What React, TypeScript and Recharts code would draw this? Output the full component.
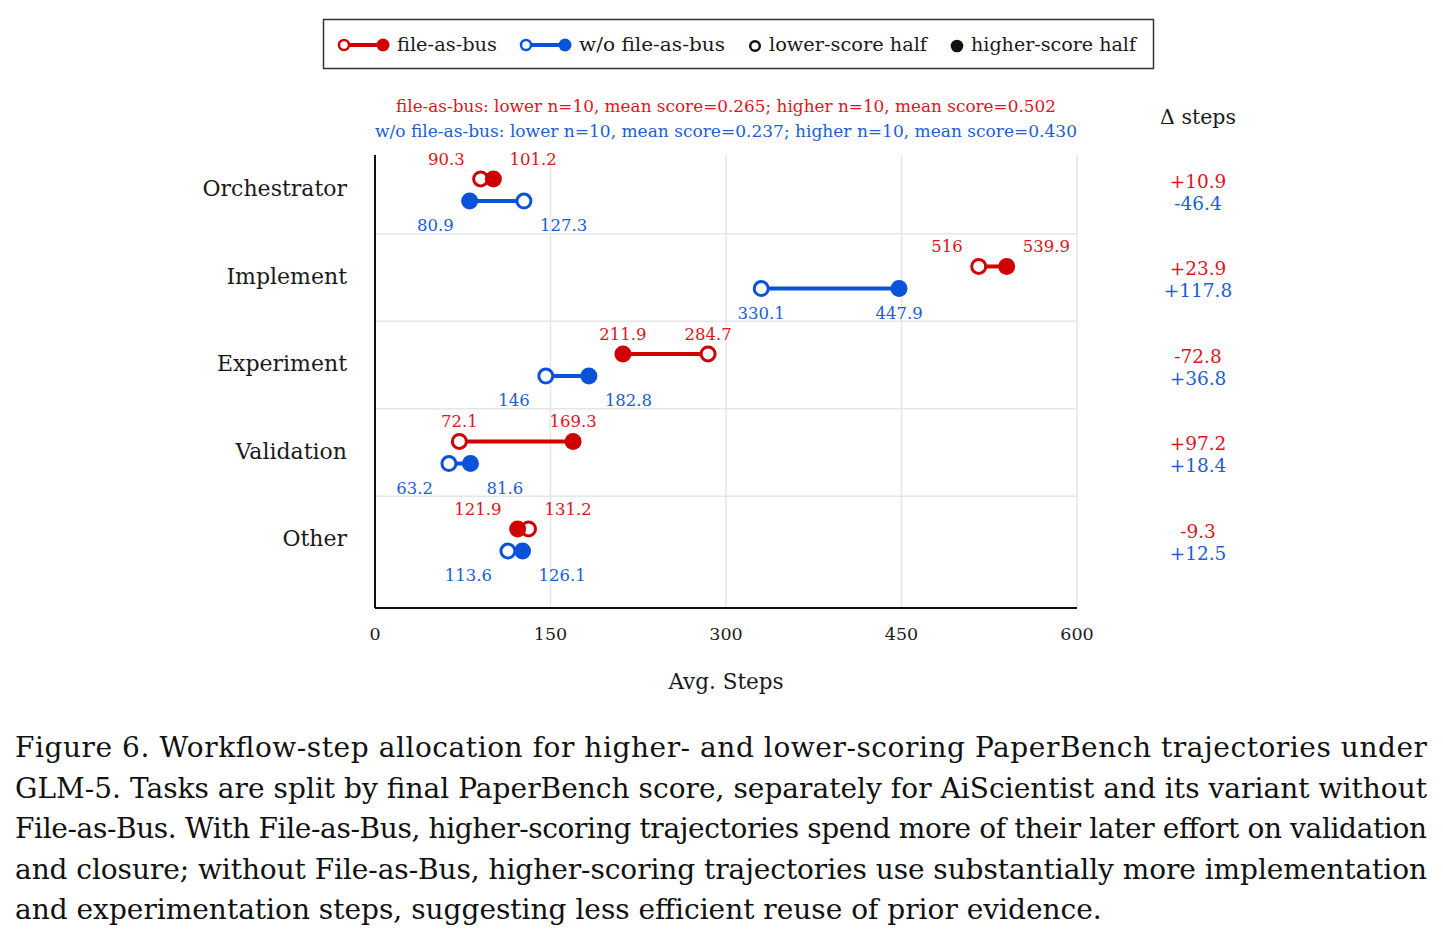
import React from 'react';
import { ScatterChart, Scatter, XAxis, YAxis, CartesianGrid } from 'recharts';

// ---------- data ----------
const categories = ['Orchestrator', 'Implement', 'Experiment', 'Validation', 'Other'];
const busLower = [90.3, 516, 284.7, 72.1, 131.2];
const busHigher = [101.2, 539.9, 211.9, 169.3, 121.9];
const noBusLower = [127.3, 330.1, 146, 63.2, 113.6];
const noBusHigher = [80.9, 447.9, 182.8, 81.6, 126.1];
const deltaBus = ['+10.9', '+23.9', '-72.8', '+97.2', '-9.3'];
const deltaNoBus = ['-46.4', '+117.8', '+36.8', '+18.4', '+12.5'];
const xTicks = [0, 150, 300, 450, 600];
const rowTicks = [0, 1, 2, 3, 4];
const rowGrid = [0.5, 1.5, 2.5, 3.5];
const titleBus = 'file-as-bus: lower n=10, mean score=0.265; higher n=10, mean score=0.502';
const titleNoBus = 'w/o file-as-bus: lower n=10, mean score=0.237; higher n=10, mean score=0.430';
const captionLines = [
  'Figure 6. Workflow-step allocation for higher- and lower-scoring PaperBench trajectories under',
  'GLM-5. Tasks are split by final PaperBench score, separately for AiScientist and its variant without',
  'File-as-Bus. With File-as-Bus, higher-scoring trajectories spend more of their later effort on validation',
  'and closure; without File-as-Bus, higher-scoring trajectories use substantially more implementation',
  'and experimentation steps, suggesting less efficient reuse of prior evidence.',
];

// ---------- style ----------
const FONT = '"DejaVu Serif", serif';
const CAP_FONT = '"DejaVu Serif", serif';
const RED = '#D00000';
const BLUE = '#0A52DA';
const RED_T = '#E0141C';
const BLUE_T = '#1B5ED6';
const INK = '#1a1a1a';
const GRID = '#e6e6e6';
const OFF = 0.126;
const CLOSE = 60;

type Pt = {
  x: number; y: number; filled: boolean; color: string; textColor: string;
  label: string; side: 'min' | 'max'; close: boolean; above: boolean;
};

function makeRow(i: number, lower: number, higher: number, color: string, textColor: string, above: boolean): Pt[] {
  const y = i + (above ? -OFF : OFF);
  const close = Math.abs(higher - lower) < CLOSE;
  const mn = Math.min(lower, higher);
  return [
    { x: lower, filled: false },
    { x: higher, filled: true },
  ].map((p) => ({
    x: p.x, y, filled: p.filled, color, textColor, label: String(p.x),
    side: p.x === mn ? 'min' : 'max', close, above,
  })) as Pt[];
}

const busRows = categories.map((_, i) => makeRow(i, busLower[i], busHigher[i], RED, RED_T, true));
const noBusRows = categories.map((_, i) => makeRow(i, noBusLower[i], noBusHigher[i], BLUE, BLUE_T, false));
const deltaData = categories.map((_, i) => ({ x: 600, y: i, db: deltaBus[i], dn: deltaNoBus[i] }));

const DumbbellDot = (props: any) => {
  const { cx, cy, payload } = props;
  if (cx == null || cy == null) return null;
  const p = payload as Pt;
  let tx = cx;
  let anchor: 'middle' | 'start' | 'end' = 'middle';
  if (p.close) {
    if (p.side === 'min') { tx = cx - 16; anchor = 'end'; } else { tx = cx + 16; anchor = 'start'; }
  }
  const ty = p.above ? cy - 14 : cy + 30;
  return (
    <g>
      {p.filled ? (
        <circle cx={cx} cy={cy} r={8.5} fill={p.color} />
      ) : (
        <circle cx={cx} cy={cy} r={7} fill="#fff" stroke={p.color} strokeWidth={3} />
      )}
      <text x={tx} y={ty} textAnchor={anchor} fill={p.textColor} fontSize={16.5} fontFamily={FONT}>
        {p.label}
      </text>
    </g>
  );
};

const DeltaShape = (props: any) => {
  const { cx, cy, payload } = props;
  if (cx == null || cy == null) return null;
  return (
    <g>
      <text x={cx + 121} y={cy - 2.5} textAnchor="middle" fill={RED_T} fontSize={18.5} fontFamily={FONT}>{payload.db}</text>
      <text x={cx + 121} y={cy + 19.5} textAnchor="middle" fill={BLUE_T} fontSize={18.5} fontFamily={FONT}>{payload.dn}</text>
    </g>
  );
};

const CatTick = (props: any) => {
  const { x, y, payload } = props;
  return (
    <text x={x} y={y + 6} textAnchor="end" fontSize={22} fontFamily={FONT} fill={INK}>
      {categories[payload.value]}
    </text>
  );
};

const XTick = (props: any) => {
  const { x, y, payload } = props;
  return (
    <text x={x} y={y + 32} textAnchor="middle" fontSize={17.5} fontFamily={FONT} fill={INK}>
      {payload.value}
    </text>
  );
};

export default function App() {
  return (
    <div style={{ position: 'absolute', left: 0, top: 0, width: 1443, height: 945, background: '#fff' }}>
      <div style={{ position: 'absolute', left: 0, top: 0 }}>
        <ScatterChart width={1443} height={720} margin={{ top: 155, right: 366, bottom: 72, left: 0 }}>
          <CartesianGrid
            stroke={GRID}
            strokeWidth={1.5}
            horizontalValues={rowGrid}
            verticalValues={[150, 300, 450, 600]}
          />
          <XAxis
            type="number"
            dataKey="x"
            domain={[0, 600]}
            ticks={xTicks}
            height={40}
            axisLine={{ stroke: '#111', strokeWidth: 2 }}
            tickLine={false}
            tickSize={0}
            tickMargin={0}
            tick={<XTick />}
            interval={0}
          />
          <YAxis
            type="number"
            dataKey="y"
            domain={[-0.4, 4.777]}
            reversed
            ticks={rowTicks}
            width={375}
            axisLine={{ stroke: '#111', strokeWidth: 2 }}
            tickLine={false}
            tickSize={0}
            tickMargin={28}
            tick={<CatTick />}
            interval={0}
          />
          {busRows.map((row, i) => (
            <Scatter
              key={'bus' + i}
              data={row}
              line={{ stroke: RED, strokeWidth: 4 }}
              lineType="joint"
              shape={<DumbbellDot />}
              isAnimationActive={false}
            />
          ))}
          {noBusRows.map((row, i) => (
            <Scatter
              key={'nobus' + i}
              data={row}
              line={{ stroke: BLUE, strokeWidth: 4 }}
              lineType="joint"
              shape={<DumbbellDot />}
              isAnimationActive={false}
            />
          ))}
          <Scatter data={deltaData} shape={<DeltaShape />} isAnimationActive={false} />
        </ScatterChart>
      </div>
      <svg
        width={1443}
        height={945}
        style={{ position: 'absolute', left: 0, top: 0, pointerEvents: 'none' }}
      >
        {/* legend */}
        <rect x={323.5} y={19.5} width={830} height={49} fill="none" stroke="#333" strokeWidth={1.5} />
        <line x1={344} y1={45} x2={383} y2={45} stroke={RED} strokeWidth={4} />
        <circle cx={344} cy={45} r={5} fill="#fff" stroke={RED} strokeWidth={2.5} />
        <circle cx={383} cy={45} r={6.5} fill={RED} />
        <text x={397} y={51} fontSize={19} fontFamily={FONT} fill={INK} textLength={100} lengthAdjust="spacingAndGlyphs">file-as-bus</text>
        <line x1={526} y1={45} x2={565} y2={45} stroke={BLUE} strokeWidth={4} />
        <circle cx={526} cy={45} r={5} fill="#fff" stroke={BLUE} strokeWidth={2.5} />
        <circle cx={565} cy={45} r={6.5} fill={BLUE} />
        <text x={579} y={51} fontSize={19} fontFamily={FONT} fill={INK} textLength={146} lengthAdjust="spacingAndGlyphs">w/o file-as-bus</text>
        <circle cx={755} cy={46} r={4.8} fill="#fff" stroke="#111" strokeWidth={2.5} />
        <text x={769} y={51} fontSize={19} fontFamily={FONT} fill={INK} textLength={158} lengthAdjust="spacingAndGlyphs">lower-score half</text>
        <circle cx={957} cy={46} r={6.3} fill="#111" />
        <text x={971} y={51} fontSize={19} fontFamily={FONT} fill={INK} textLength={165} lengthAdjust="spacingAndGlyphs">higher-score half</text>

        {/* subtitle lines */}
        <text x={726} y={112} textAnchor="middle" fontSize={16.5} fontFamily={FONT} fill={RED_T} textLength={660} lengthAdjust="spacingAndGlyphs">{titleBus}</text>
        <text x={726} y={137} textAnchor="middle" fontSize={16.5} fontFamily={FONT} fill={BLUE_T} textLength={702} lengthAdjust="spacingAndGlyphs">{titleNoBus}</text>

        {/* delta header */}
        <text x={1198} y={124} textAnchor="middle" fontSize={20.5} fontFamily={FONT} fill={INK}>Δ steps</text>

        {/* x axis title */}
        <text x={726} y={689} textAnchor="middle" fontSize={21.5} fontFamily={FONT} fill={INK}>Avg. Steps</text>

        {/* caption */}
        {captionLines.map((ln, i) => (
          <text
            key={i}
            x={15}
            y={757 + i * 40.5}
            fontSize={28}
            fontFamily={CAP_FONT}
            fill="#111"
            {...(i === captionLines.length - 1
              ? {}
              : { textLength: 1412, lengthAdjust: 'spacing' })}
          >
            {ln}
          </text>
        ))}
      </svg>
    </div>
  );
}
